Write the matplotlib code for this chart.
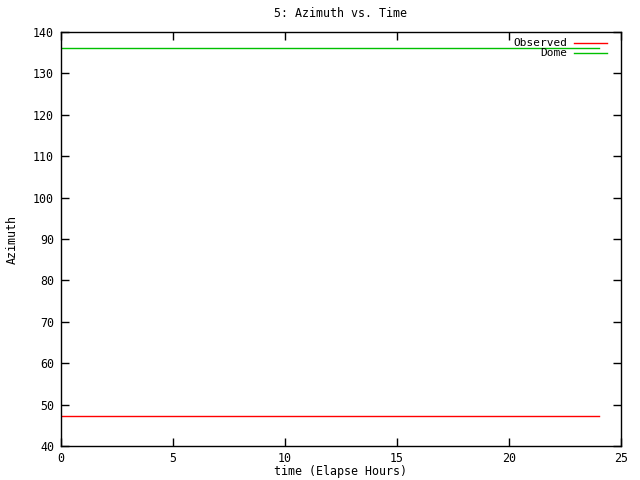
import matplotlib
matplotlib.use("Agg")
import matplotlib.pyplot as plt
from matplotlib.lines import Line2D

time_hours = [0, 24]
observed = [47.3, 47.3]
dome = [136.1, 136.1]
title = "5: Azimuth vs. Time"
xlabel = "time (Elapse Hours)"
ylabel = "Azimuth"
series_names = ["Observed", "Dome"]
colors = ["#ff0000", "#00c000"]

plt.rcParams['font.family'] = ['DejaVu Sans Mono']
fs = 8.4

fig = plt.figure(figsize=(6.4, 4.8), dpi=100)
ax = fig.add_axes([61/640, 34/480, 560/640, 414/480])
ax.plot(time_hours, observed, color=colors[0], lw=1)
ax.plot(time_hours, dome, color=colors[1], lw=1)
ax.set_xlim(0, 25)
ax.set_ylim(40, 140)
ax.set_xticks(range(0, 26, 5))
ax.set_yticks(range(40, 141, 10))
ax.tick_params(direction='in', length=6, width=1, top=True, right=True, labelsize=fs, pad=5)
ax.tick_params(axis='x', pad=4)
for s in ax.spines.values():
    s.set_linewidth(1)
ax.set_title(title, fontsize=fs, pad=11)
ax.set_xlabel(xlabel, fontsize=fs, labelpad=0)
ax.set_ylabel(ylabel, fontsize=fs, labelpad=10)

# legend drawn gnuplot-style (right-justified text, sample line on right)
ys = [42.5, 53]
for name, c, ypx in zip(series_names, colors, ys):
    yf = 1 - ypx/480
    fig.text(567/640, yf, name, ha='right', va='center', fontsize=8)
    fig.add_artist(Line2D([574/640, 607/640], [yf, yf], color=c, lw=1, transform=fig.transFigure))

fig.savefig("out.png", dpi=100)
